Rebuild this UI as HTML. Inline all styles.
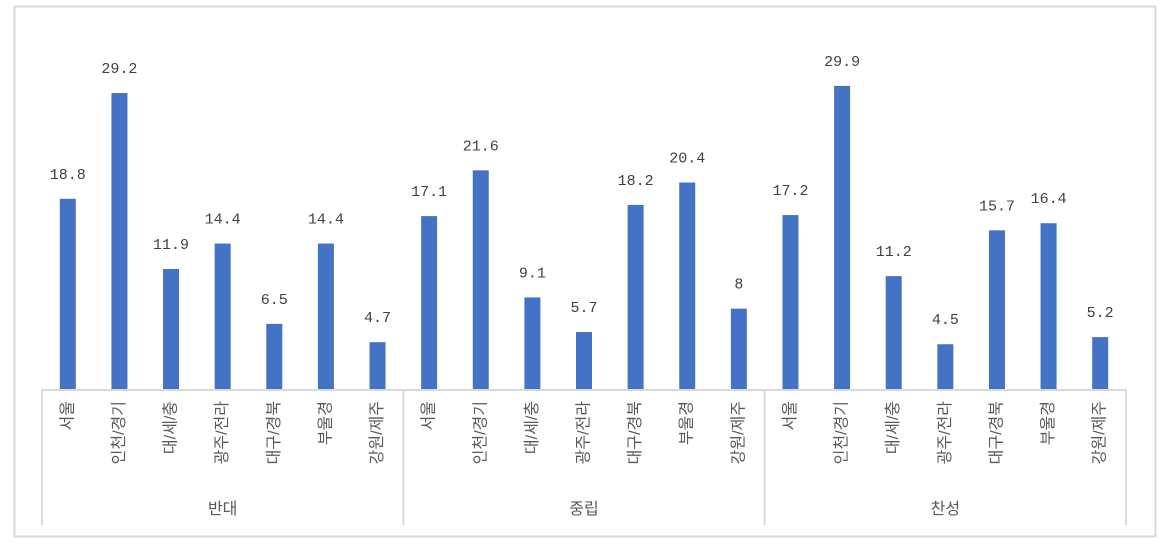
<!DOCTYPE html>
<html><head><meta charset="utf-8"><style>
body{margin:0;background:#fff;}
svg{display:block;}
</style></head><body>
<svg id="chart" width="1163" height="545" xmlns="http://www.w3.org/2000/svg">
<rect x="14.5" y="6.5" width="1141" height="530" fill="#fff" stroke="#d9d9d9" stroke-width="2"/>
<g id="bars"></g><g id="axis"></g>
</svg>
<script>
const groups = ["반대","중립","찬성"];
const categories = ["서울","인천/경기","대/세/충","광주/전라","대구/경북","부울경","강원/제주"];
const values = [
  [18.8,29.2,11.9,14.4,6.5,14.4,4.7],
  [17.1,21.6,9.1,5.7,18.2,20.4,8],
  [17.2,29.9,11.2,4.5,15.7,16.4,5.2]
];
const labels = [
  ["18.8","29.2","11.9","14.4","6.5","14.4","4.7"],
  ["17.1","21.6","9.1","5.7","18.2","20.4","8"],
  ["17.2","29.9","11.2","4.5","15.7","16.4","5.2"]
];
const NS="http://www.w3.org/2000/svg";
const x0=42,x1=1126,base=390,ppu=10.17;
const groupW=(x1-x0)/groups.length, slotW=groupW/categories.length;
function yScale(v){return base-v*ppu;}
function xCenter(g,i){return x0+g*groupW+(i+0.5)*slotW;}
const bars=document.getElementById('bars'), axis=document.getElementById('axis');
function mk(tag,attrs,parent){const e=document.createElementNS(NS,tag);for(const k in attrs)e.setAttribute(k,attrs[k]);parent.appendChild(e);return e;}
groups.forEach((gname,g)=>{
  categories.forEach((c,i)=>{
    const v=values[g][i], cx=xCenter(g,i);
    const r=mk('rect',{x:cx-8,y:yScale(v),width:16,height:base-yScale(v),fill:'#4472c4'},bars);
    
    
    const t=mk('text',{x:cx,y:yScale(v)-20,'text-anchor':'middle','font-family':'Liberation Mono, monospace','font-size':'15',fill:'#404040'},bars);
    t.textContent=labels[g][i];
    
    
    const ct=mk('text',{x:0,y:0,'text-anchor':'end','dominant-baseline':'central','font-family':'Liberation Sans, Noto Sans CJK KR, sans-serif','font-size':'16',fill:'#595959',transform:`translate(${cx},${401}) rotate(-90)`},axis);
    ct.textContent=c;
    
    
  });
  const gt=mk('text',{x:x0+(g+0.5)*groupW,y:514,'text-anchor':'middle','font-family':'Liberation Sans, Noto Sans CJK KR, sans-serif','font-size':'16',fill:'#595959'},axis);
  gt.textContent=gname;
  
  
});
const bl=mk('line',{x1:x0,x2:x1,y1:base,y2:base,stroke:'#d9d9d9','stroke-width':2},axis);


for(let g=0;g<=groups.length;g++){
  const x=x0+g*groupW;
  const l=mk('line',{x1:x,x2:x,y1:base,y2:525,stroke:'#d9d9d9','stroke-width':2},axis);
  
  
}
</script>
</body></html>
